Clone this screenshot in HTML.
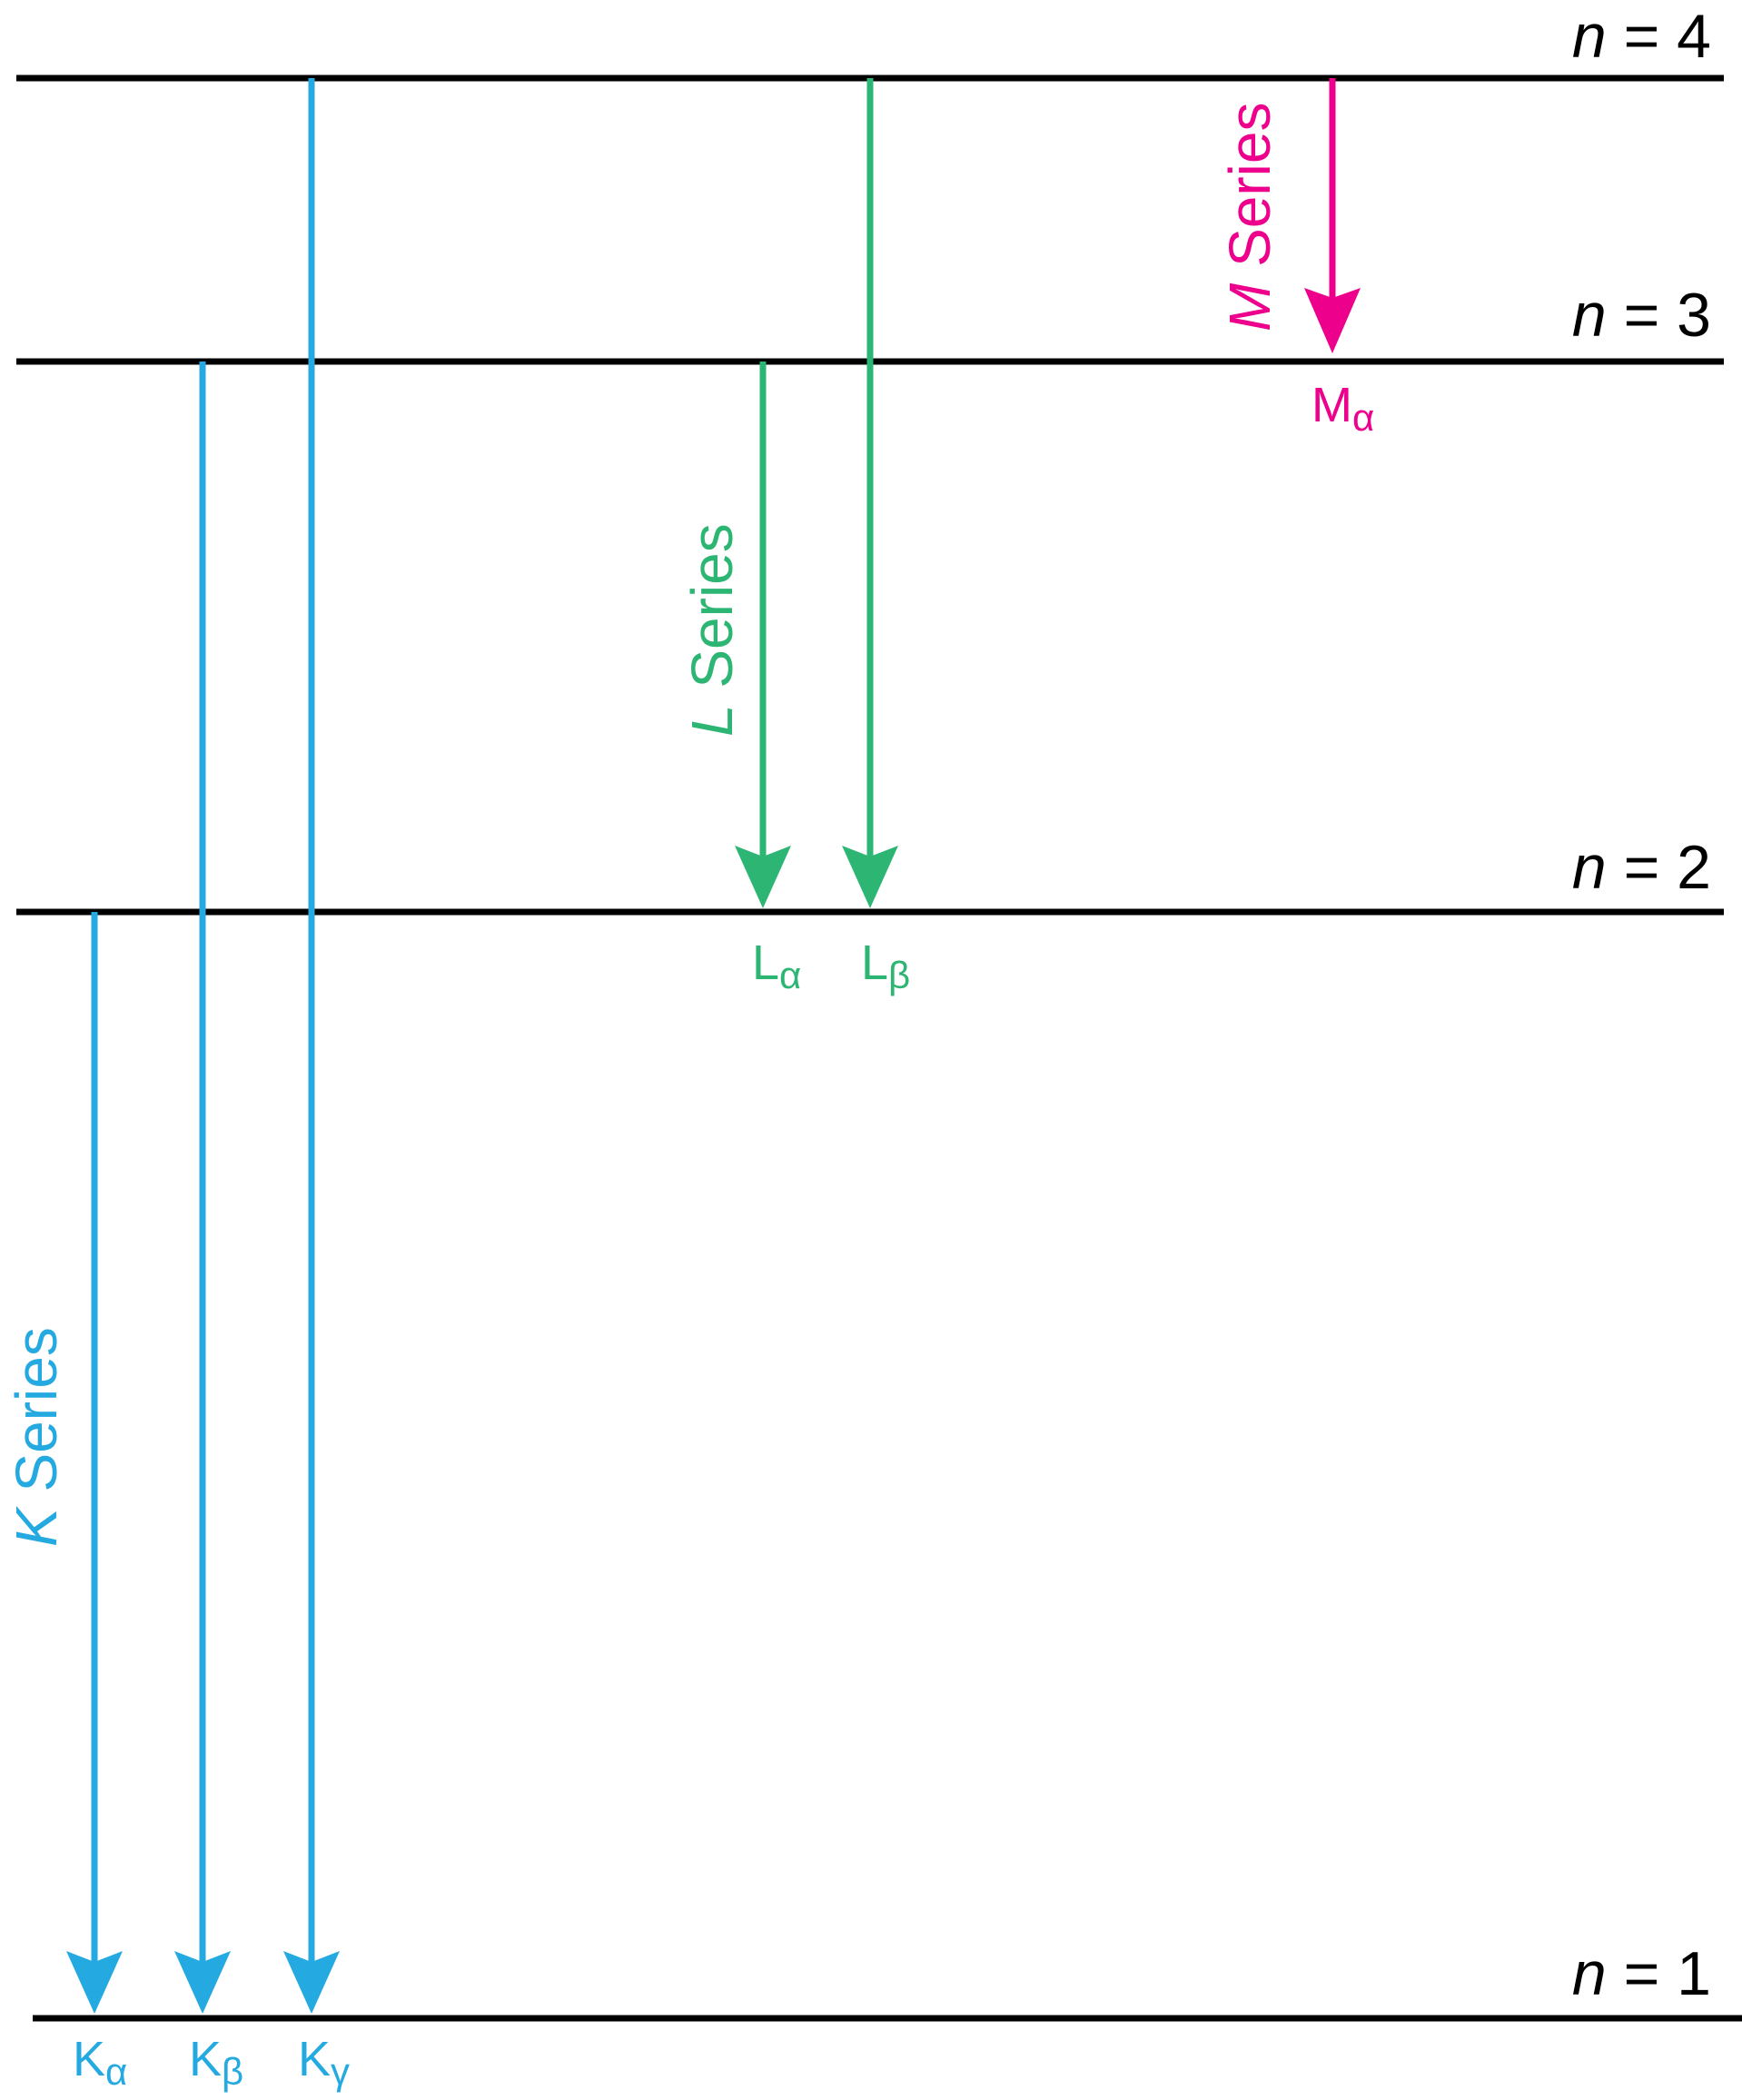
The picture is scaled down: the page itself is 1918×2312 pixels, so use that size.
<!DOCTYPE html>
<html><head><meta charset="utf-8"><style>html,body{margin:0;padding:0;background:#fff}svg{display:block}</style></head><body>
<svg width="1918" height="2312" viewBox="0 0 1918 2312" xmlns="http://www.w3.org/2000/svg" font-family="Liberation Sans, sans-serif">
<g stroke="#000" stroke-width="7">
<line x1="18" y1="86" x2="1898" y2="86"/>
<line x1="18" y1="398" x2="1898" y2="398"/>
<line x1="18" y1="1004" x2="1898" y2="1004"/>
<line x1="36" y1="2222" x2="1918" y2="2222"/>
</g>
<g font-size="68" fill="#000" text-anchor="end">
<text x="1884" y="63"><tspan font-style="italic">n</tspan> = 4</text>
<text x="1884" y="370"><tspan font-style="italic">n</tspan> = 3</text>
<text x="1884" y="978"><tspan font-style="italic">n</tspan> = 2</text>
<text x="1884" y="2196"><tspan font-style="italic">n</tspan> = 1</text>
</g>
<!-- blue -->
<g stroke="#24aae1" stroke-width="7" fill="#24aae1">
<line x1="104" y1="1004" x2="104" y2="2165"/>
<line x1="223" y1="398" x2="223" y2="2165"/>
<line x1="343" y1="86" x2="343" y2="2165"/>
</g>
<g fill="#24aae1">
<path d="M73 2148 L104 2160 L135 2148 L104 2217Z"/>
<path d="M192 2148 L223 2160 L254 2148 L223 2217Z"/>
<path d="M312 2148 L343 2160 L374 2148 L343 2217Z"/>
<g font-size="54">
<text x="80" y="2285">K<tspan font-size="42" dy="10">α</tspan></text>
<text x="208" y="2285">K<tspan font-size="42" dy="10">β</tspan></text>
<text x="328" y="2285">K<tspan font-size="42" dy="10">γ</tspan></text>
</g>
<text transform="translate(62 1703) rotate(-90)" font-size="64"><tspan font-style="italic">K</tspan> Series</text>
</g>
<!-- green -->
<g stroke="#2db673" stroke-width="7">
<line x1="840" y1="398" x2="840" y2="945"/>
<line x1="958" y1="86" x2="958" y2="945"/>
</g>
<g fill="#2db673">
<path d="M809 931 L840 943 L871 931 L840 1000Z"/>
<path d="M927 931 L958 943 L989 931 L958 1000Z"/>
<g font-size="54">
<text x="828" y="1078">L<tspan font-size="42" dy="10">α</tspan></text>
<text x="948" y="1078">L<tspan font-size="42" dy="10">β</tspan></text>
</g>
<text transform="translate(806 811) rotate(-90)" font-size="64"><tspan font-style="italic">L</tspan> Series</text>
</g>
<!-- magenta -->
<line x1="1467" y1="86" x2="1467" y2="330" stroke="#ec008c" stroke-width="7"/>
<g fill="#ec008c">
<path d="M1436 317 L1467 328 L1498 317 L1467 389Z"/>
<text x="1444" y="464" font-size="54">M<tspan font-size="42" dy="10">α</tspan></text>
<text transform="translate(1398 365) rotate(-90)" font-size="64"><tspan font-style="italic">M</tspan> Series</text>
</g>
</svg>
</body></html>
